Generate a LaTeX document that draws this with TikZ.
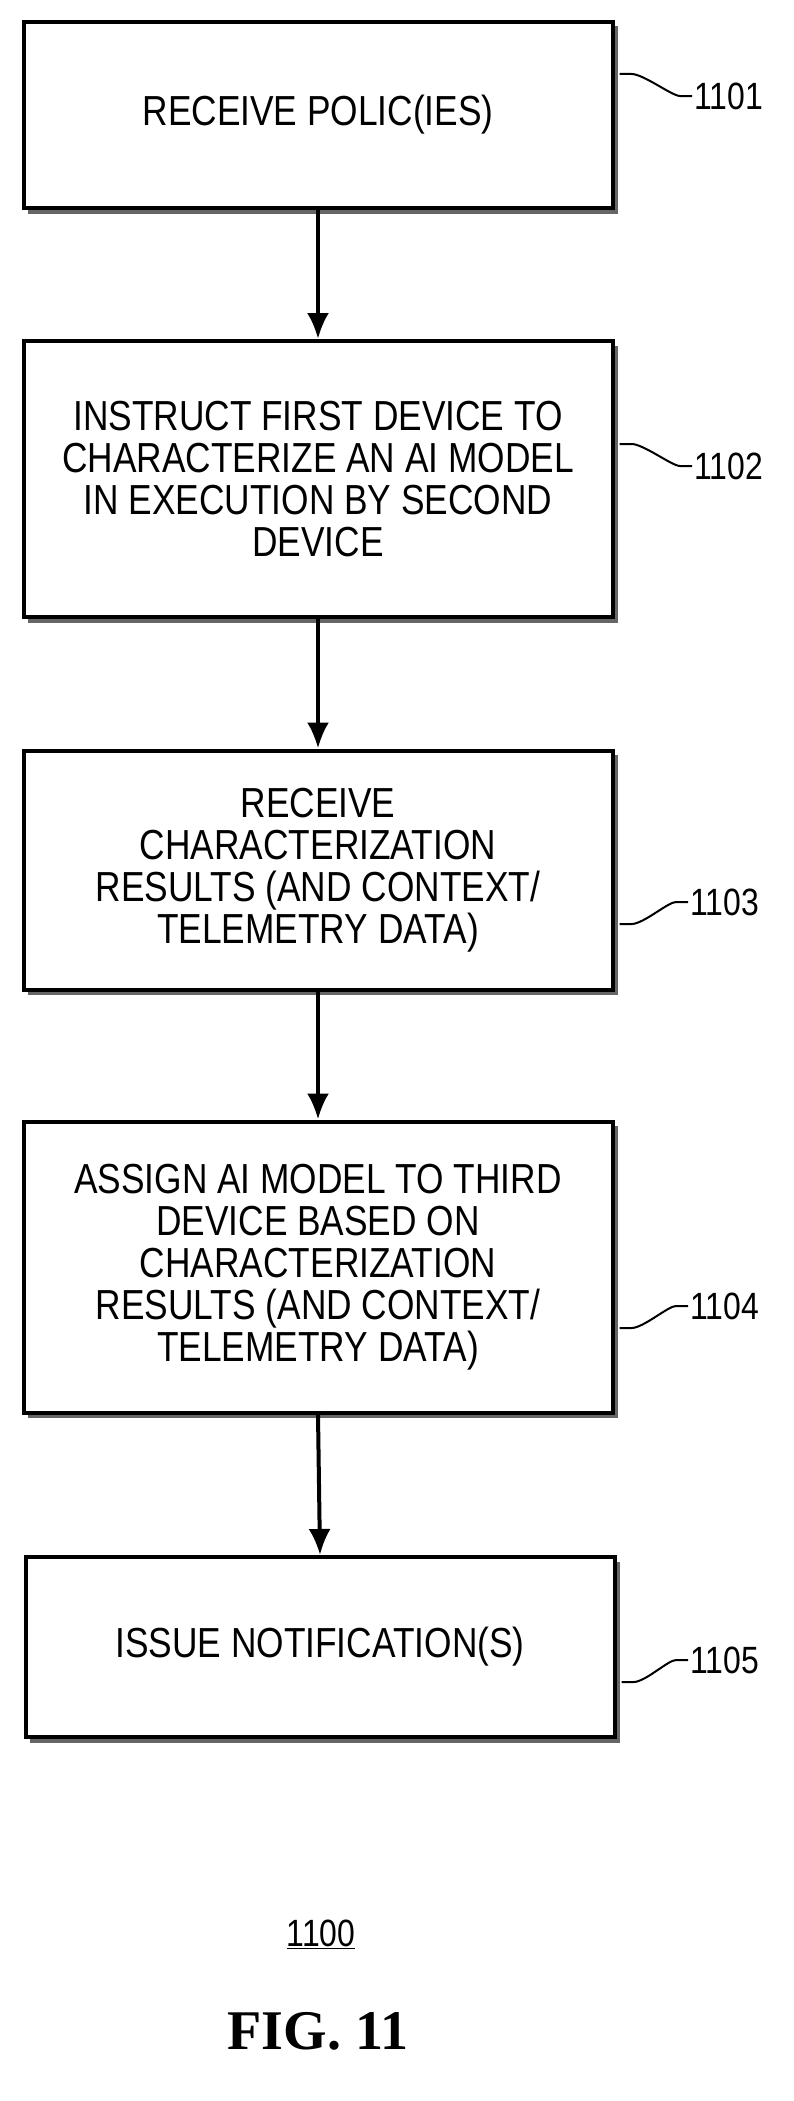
\documentclass[tikz,border=0pt]{standalone}
\usepackage{fontspec}
\setmainfont{Liberation Sans}
\newfontfamily\narrowf[FakeStretch=0.84]{Liberation Sans}
\newfontfamily\serifbf{Liberation Serif}
\usetikzlibrary{arrows.meta}
\begin{document}
\begin{tikzpicture}[x=1pt,y=-1pt,
  box/.style={draw,line width=4pt,fill=white,minimum width=589pt,align=center,
    font=\narrowf\fontsize{42}{42}\selectfont,inner sep=0pt,
    preaction={draw=black!60,fill=black!60,line width=1pt,transform canvas={xshift=5pt,yshift=-5pt}}},
  arr/.style={line width=4pt,-{Latex[length=26pt,width=22pt]}},
  lead/.style={line width=2pt},
  lab/.style={font=\narrowf\fontsize{38}{40}\selectfont,anchor=west,inner sep=0pt}]
\useasboundingbox (0,0) rectangle (794,2101);
\node[box,minimum height=186pt] (b1) at (318,115) {RECEIVE POLIC(IES)};
\node[box,minimum height=276pt] (b2) at (318,479) {INSTRUCT FIRST DEVICE TO\\CHARACTERIZE AN AI MODEL\\IN EXECUTION BY SECOND\\DEVICE};
\node[box,minimum height=239pt] (b3) at (318,870) {RECEIVE\\CHARACTERIZATION\\RESULTS (AND CONTEXT/\\TELEMETRY DATA)};
\node[box,minimum height=291pt] (b4) at (318,1267) {ASSIGN AI MODEL TO THIRD\\DEVICE BASED ON\\CHARACTERIZATION\\RESULTS (AND CONTEXT/\\TELEMETRY DATA)};
\node[box,minimum height=180pt] (b5) at (320,1647) {ISSUE NOTIFICATION(S)};
\draw[arr] (b1.south) -- (b2.north);
\draw[arr] (b2.south) -- (b3.north);
\draw[arr] (b3.south) -- (b4.north);
\draw[arr] (b4.south) -- (b5.north);
\node[lab] (l1) at (694,96) {1101};
\node[lab] (l2) at (694,466) {1102};
\node[lab] (l3) at (690,902) {1103};
\node[lab] (l4) at (690,1306) {1104};
\node[lab] (l5) at (690,1660) {1105};
\foreach \b/\l/\s in {b1/l1/1,b2/l2/1,b3/l3/-1,b4/l4/-1,b5/l5/-1}{
  \draw[lead] ([xshift=5pt,yshift=\s*22pt]\l.west -| \b.east) -- +(12,0) .. controls +(12,0) and +(-8,0) .. ([xshift=-14pt]\l.west) -- ([xshift=-2pt]\l.west);
}
\node[font=\narrowf\fontsize{38}{40}\selectfont] (n) at (321,1934) {\underline{1100}};
\node[font=\serifbf\bfseries\fontsize{56}{60}\selectfont] (f) at (318,2031) {FIG. 11};
\end{tikzpicture}
\end{document}
